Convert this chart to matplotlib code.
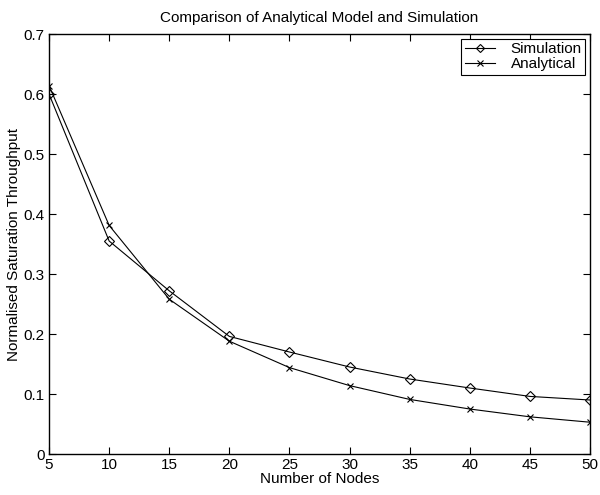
import numpy as np
import matplotlib
matplotlib.use("Agg")
import matplotlib.pyplot as plt

plt.rcParams["font.family"] = ["Liberation Sans", "DejaVu Sans"]

nodes = [5, 10, 15, 20, 25, 30, 35, 40, 45, 50]
simulation = [0.600, 0.355, 0.272, 0.196, 0.170, 0.145, 0.125, 0.110, 0.096, 0.090]
analytical = [0.614, 0.381, 0.258, 0.188, 0.144, 0.114, 0.091, 0.075, 0.062, 0.053]

fig = plt.figure(figsize=(6, 4.95), dpi=100)
ax = fig.add_axes([0.0817, 0.0828, 0.9017, 0.8485])

ax.plot(nodes, simulation, color="black", lw=0.8, marker="D", ms=5.5,
        mfc="none", mec="black", mew=0.8, label="Simulation")
ax.plot(nodes, analytical, color="black", lw=0.8, marker="x", ms=5,
        mew=0.8, label="Analytical")

ax.set_xlim(5, 50); ax.set_ylim(0, 0.7)
ax.set_xticks(nodes)
ax.set_yticks(np.arange(0, 0.71, 0.1))
ax.set_yticklabels(["0", "0.1", "0.2", "0.3", "0.4", "0.5", "0.6", "0.7"])
ax.tick_params(direction="in", top=True, right=True, labelsize=11, length=5, width=0.8, pad=3)
for s in ax.spines.values():
    s.set_linewidth(1.0)

ax.set_xlabel("Number of Nodes", fontsize=11, labelpad=0)
ax.set_ylabel("Normalised Saturation Throughput", fontsize=11, labelpad=2)
ax.set_title("Comparison of Analytical Model and Simulation", fontsize=11, pad=9)

leg = ax.legend(loc="upper right", fontsize=11, fancybox=False, framealpha=1,
                edgecolor="black", handlelength=2.0, handletextpad=1.0,
                borderpad=0.25, labelspacing=0.05, borderaxespad=0.3, markerscale=0.8)
leg.get_frame().set_linewidth(0.8)

fig.savefig("out.png", dpi=100)
